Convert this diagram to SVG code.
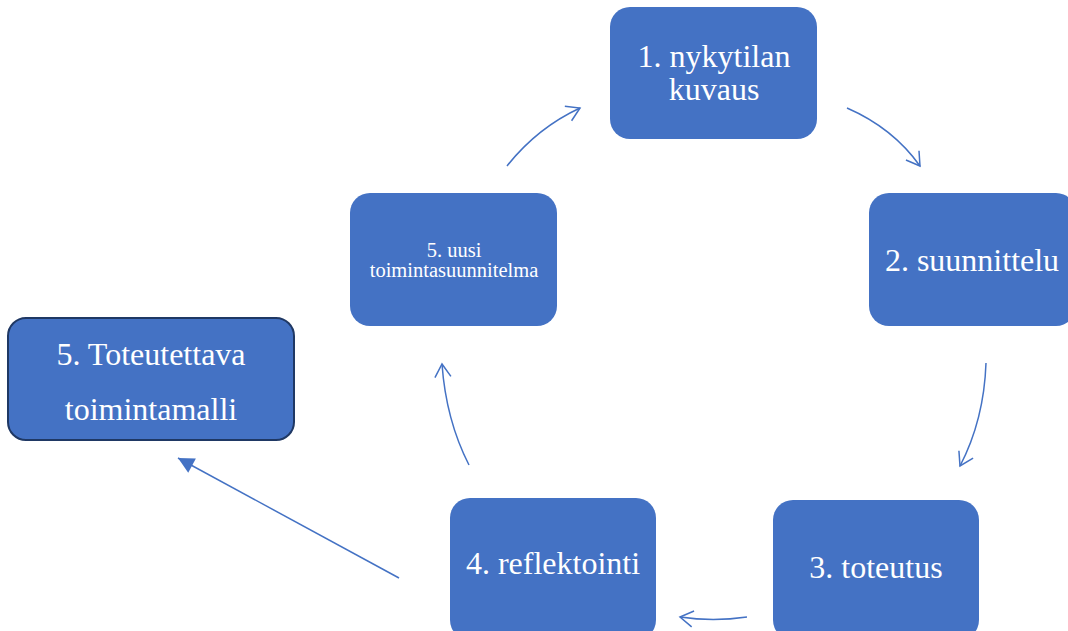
<svg xmlns="http://www.w3.org/2000/svg" width="1068" height="631" viewBox="0 0 1068 631">
<defs>
<style>
.box{fill:#4472C4;}
.t{fill:#fff;font-family:"Liberation Serif",serif;text-anchor:middle;}
.big{font-size:32px;}
.small{font-size:20.5px;}
.c{fill:none;stroke:#4472C4;stroke-width:1.5;}
</style>
<marker id="open" markerUnits="userSpaceOnUse" markerWidth="30" markerHeight="30" viewBox="-20 -15 30 30" refX="0" refY="0" orient="auto">
<path d="M-13,-8 L0,0 L-13,8" fill="none" stroke="#4472C4" stroke-width="1.5"/>
</marker>
<marker id="tri" markerUnits="userSpaceOnUse" markerWidth="30" markerHeight="30" viewBox="-20 -15 30 30" refX="0" refY="0" orient="auto">
<path d="M-16,-8 L0,0 L-16,8 Z" fill="#4472C4"/>
</marker>
</defs>
<g id="n1"><rect class="box" x="610" y="7" width="207" height="132" rx="20"/><text class="t big" x="714" y="67">1. nykytilan</text><text class="t big" x="714" y="100">kuvaus</text></g>
<g id="n2"><rect class="box" x="869" y="193" width="207" height="133" rx="20"/><text class="t big" x="972" y="271">2. suunnittelu</text></g>
<g id="n3"><rect class="box" x="773" y="500" width="206" height="140" rx="20"/><text class="t big" x="876" y="578">3. toteutus</text></g>
<g id="n4"><rect class="box" x="450" y="498" width="206" height="142" rx="20"/><text class="t big" x="553" y="574">4. reflektointi</text></g>
<g id="n5"><rect class="box" x="350" y="193" width="207" height="133" rx="20"/><text class="t small" x="454" y="257">5. uusi</text><text class="t small" x="454" y="277">toimintasuunnitelma</text></g>
<g id="n6"><rect x="8" y="318" width="286" height="122" rx="18" fill="#4472C4" stroke="#1F3864" stroke-width="2"/><text class="t big" x="151" y="365">5. Toteutettava</text><text class="t big" x="151" y="420">toimintamalli</text></g>
<g id="connectors">
<path class="c" d="M507,166 Q537,128 580,108" marker-end="url(#open)"/>
<path class="c" d="M847,108 Q893,128 920,166" marker-end="url(#open)"/>
<path class="c" d="M986,363 Q984,420 960,466" marker-end="url(#open)"/>
<path class="c" d="M747,617 Q713,622 680,617" marker-end="url(#open)"/>
<path class="c" d="M469,465 Q446,420 442,364" marker-end="url(#open)"/>
<path class="c" d="M399,578 L178,458" marker-end="url(#tri)"/>
</g>
</svg>
